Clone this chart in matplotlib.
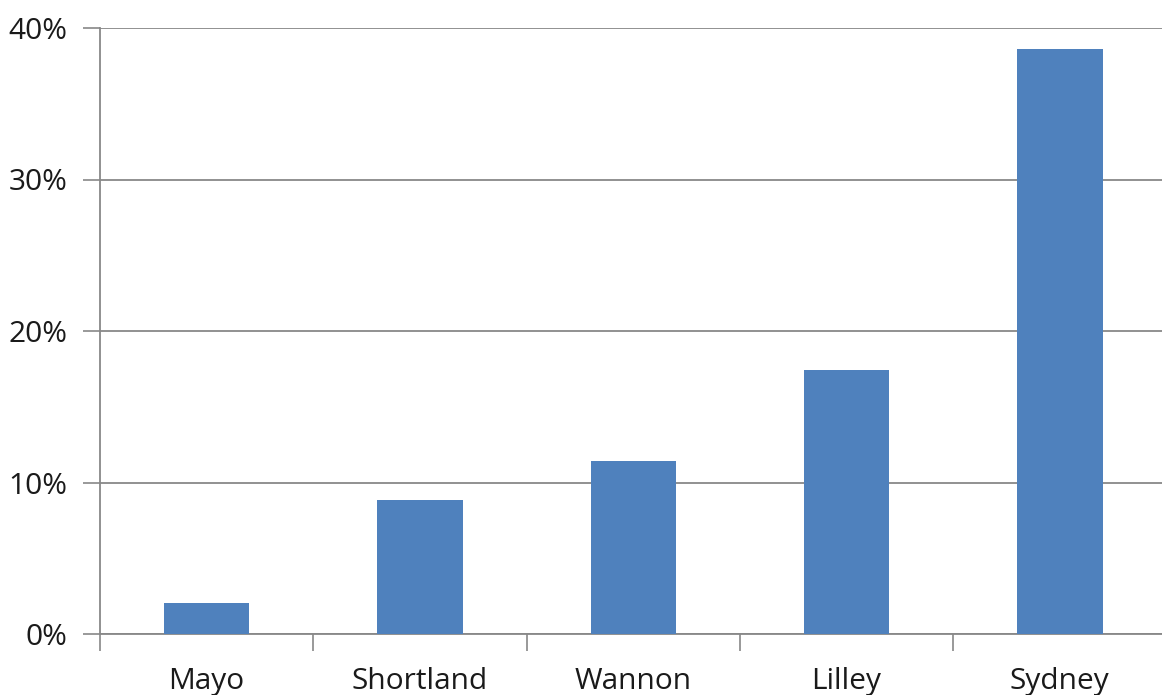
import matplotlib
matplotlib.use("Agg")
import matplotlib.pyplot as plt
from matplotlib.ticker import FuncFormatter

categories = ["Mayo", "Shortland", "Wannon", "Lilley", "Sydney"]
values = [0.0203, 0.0885, 0.1142, 0.1743, 0.386]
yticks = [0.0, 0.1, 0.2, 0.3, 0.4]

plt.rcParams['font.family'] = ['Open Sans', 'DejaVu Sans']

fig = plt.figure(figsize=(11.62, 6.95), dpi=100)
ax = fig.add_axes([100/1162, 1-634/695, 1066.5/1162, 606/695])

x = list(range(len(categories)))
ax.bar(x, values, width=0.40, color="#4F81BD", zorder=3)

ax.set_xlim(-0.5, len(categories) - 0.5)
ax.set_ylim(0, 0.4)
ax.set_yticks(yticks)
ax.yaxis.set_major_formatter(FuncFormatter(lambda v, p: f"{v*100:.0f}%"))
ax.set_xticks([i + 0.5 for i in range(-1, len(categories))], minor=False)
ax.set_xticklabels([])
ax.set_xticks(x, minor=True)
ax.set_xticklabels(categories, minor=True)
ax.tick_params(axis='x', which='minor', length=0, pad=24, labelsize=21.5, labelcolor="#1a1a1a")
ax.tick_params(axis='x', which='major', length=12, width=1.2, color="#888888", direction='out')
ax.tick_params(axis='y', length=12, width=1.2, color="#888888", pad=11.5, labelsize=21.5, labelcolor="#1a1a1a")

ax.grid(axis='y', color="#888888", linewidth=1.3, zorder=0)
for s in ['top', 'right']:
    ax.spines[s].set_visible(False)
for s in ['left', 'bottom']:
    ax.spines[s].set_color("#888888")
    ax.spines[s].set_linewidth(1.3)

fig.savefig("out.png", dpi=100)
